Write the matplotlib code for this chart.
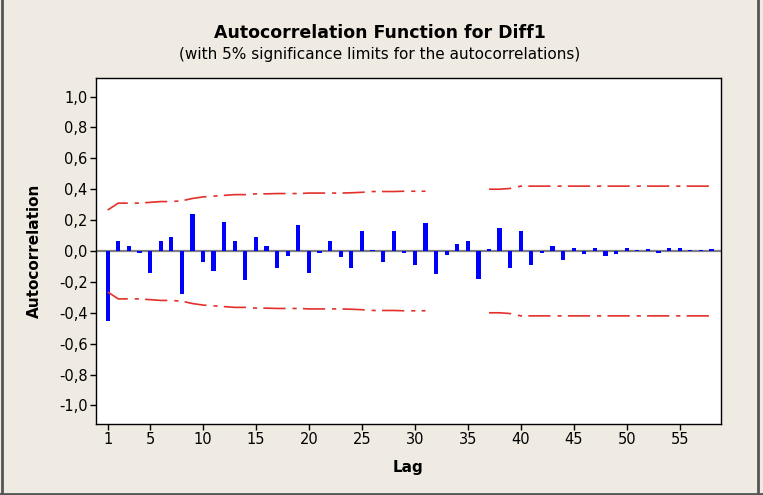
import numpy as np
import matplotlib
matplotlib.use("Agg")
import matplotlib.pyplot as plt
from matplotlib.lines import Line2D

plt.rcParams['font.family'] = ['DejaVu Sans']
plt.rcParams['lines.scale_dashes'] = False

title = "Autocorrelation Function for Diff1"
subtitle = "(with 5% significance limits for the autocorrelations)"
xlabel = "Lag"
ylabel = "Autocorrelation"

lags = list(range(1, 59))
acf = [-0.45, 0.065, 0.03, -0.015, -0.14, 0.065, 0.09, -0.28, 0.24, -0.07,
       -0.13, 0.19, 0.065, -0.19, 0.09, 0.03, -0.11, -0.03, 0.17, -0.14,
       -0.015, 0.065, -0.04, -0.11, 0.13, 0.005, -0.07, 0.13, -0.015, -0.09,
       0.18, -0.15, -0.025, 0.045, 0.065, -0.18, 0.015, 0.15, -0.11, 0.13,
       -0.09, -0.015, 0.03, -0.06, 0.02, -0.02, 0.02, -0.03, -0.02, 0.02,
       0.004, 0.01, -0.015, 0.02, 0.02, 0.004, 0.004, 0.01]
nan = float('nan')
upper = [0.265, 0.31, 0.31, 0.31, 0.315, 0.32, 0.32, 0.325, 0.34, 0.35,
         0.355, 0.36, 0.365, 0.365, 0.37, 0.37, 0.372, 0.372, 0.372, 0.375,
         0.375, 0.375, 0.375, 0.377, 0.38, 0.385, 0.385, 0.385, 0.387, 0.387,
         0.387, nan, nan, nan, nan, nan, 0.40, 0.40, 0.405, 0.42,
         0.42, 0.42, 0.42, 0.42, 0.42, 0.42, 0.42, 0.42, 0.42, 0.42,
         0.42, 0.42, 0.42, 0.42, 0.42, 0.42, 0.42, 0.42]
lower = [-u for u in upper]

ytick_vals = [1.0, 0.8, 0.6, 0.4, 0.2, 0.0, -0.2, -0.4, -0.6, -0.8, -1.0]
ytick_labels = ["1,0", "0,8", "0,6", "0,4", "0,2", "0,0", "-0,2", "-0,4", "-0,6", "-0,8", "-1,0"]
xtick_vals = [1, 5, 10, 15, 20, 25, 30, 35, 40, 45, 50, 55]

bg = "#EFEBE2"
fig = plt.figure(figsize=(7.63, 4.95), dpi=100, facecolor=bg)
ax = fig.add_axes([96/763, 1-424/495, (721-96)/763, (424-78)/495])
ax.set_facecolor("white")

ax.axhline(0, color="#7f7f7f", lw=1.6, zorder=1)
ax.bar(lags, acf, width=0.4, color="#0000FF", zorder=2)
dash = (0, (16, 5, 3, 4.5))
ax.plot(lags, upper, color="#E3302B", lw=1.2, linestyle=dash, zorder=3)
ax.plot(lags, lower, color="#E3302B", lw=1.2, linestyle=dash, zorder=3)

ax.set_xlim(-0.1, 58.9)
ax.set_ylim(-1.12, 1.12)
ax.set_yticks(ytick_vals)
ax.set_yticklabels(ytick_labels)
ax.set_xticks(xtick_vals)
ax.tick_params(axis='both', direction='out', length=4, width=1, labelsize=10.5, colors='black', pad=2)
for s in ax.spines.values():
    s.set_linewidth(1.0)
    s.set_color("black")

ax.set_xlabel(xlabel, fontsize=11, fontweight='bold', labelpad=9)
ax.set_ylabel(ylabel, fontsize=11, fontweight='bold', labelpad=12)

fig.text(380/763, 1-33/495, title, ha='center', va='center', fontsize=12.5, fontweight='bold')
fig.text(380/763, 1-55/495, subtitle, ha='center', va='center', fontsize=11)

# outer frame (left, right, bottom)
fc = "#555555"
fig.add_artist(Line2D([2/763, 2/763], [0, 1], transform=fig.transFigure, color=fc, lw=2))
fig.add_artist(Line2D([758/763, 758/763], [0, 1], transform=fig.transFigure, color=fc, lw=2))
fig.add_artist(Line2D([0, 1], [1.5/495, 1.5/495], transform=fig.transFigure, color=fc, lw=2))

fig.savefig("out.png", dpi=100, facecolor=bg)
